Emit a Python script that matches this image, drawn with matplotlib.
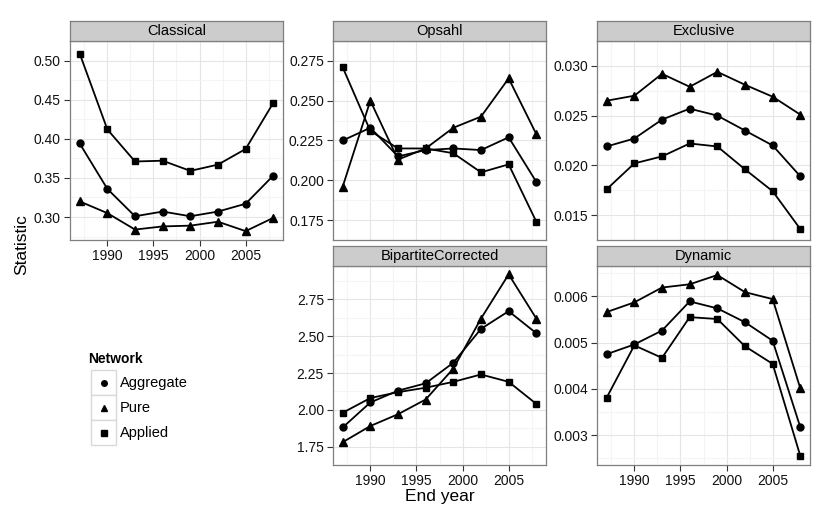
import matplotlib
matplotlib.use("Agg")
import matplotlib.pyplot as plt
from matplotlib.patches import Rectangle
import numpy as np

plt.rcParams['font.family'] = ['Liberation Sans', 'DejaVu Sans']

years = [1987, 1990, 1993, 1996, 1999, 2002, 2005, 2008]
networks = ['Aggregate', 'Pure', 'Applied']
markers = {'Aggregate': 'o', 'Pure': '^', 'Applied': 's'}
msizes = {'Aggregate': 5.0, 'Pure': 5.8, 'Applied': 5.0}

classical_aggregate = [0.394, 0.336, 0.301, 0.307, 0.301, 0.307, 0.317, 0.353]
classical_pure = [0.320, 0.305, 0.284, 0.288, 0.289, 0.294, 0.282, 0.299]
classical_applied = [0.509, 0.412, 0.371, 0.372, 0.359, 0.367, 0.387, 0.446]

opsahl_aggregate = [0.225, 0.233, 0.215, 0.219, 0.220, 0.219, 0.227, 0.199]
opsahl_pure = [0.196, 0.250, 0.213, 0.220, 0.233, 0.240, 0.264, 0.229]
opsahl_applied = [0.271, 0.231, 0.220, 0.220, 0.217, 0.205, 0.210, 0.174]

exclusive_aggregate = [0.0219, 0.0227, 0.0246, 0.0257, 0.0250, 0.0235, 0.0220, 0.0189]
exclusive_pure = [0.0265, 0.0270, 0.0292, 0.0279, 0.0294, 0.0281, 0.0269, 0.0251]
exclusive_applied = [0.0176, 0.0202, 0.0209, 0.0222, 0.0219, 0.0196, 0.0174, 0.0136]

bipartite_aggregate = [1.88, 2.05, 2.13, 2.18, 2.32, 2.55, 2.67, 2.52]
bipartite_pure = [1.78, 1.89, 1.97, 2.07, 2.28, 2.62, 2.92, 2.62]
bipartite_applied = [1.98, 2.08, 2.12, 2.15, 2.19, 2.24, 2.19, 2.04]

dynamic_aggregate = [0.00475, 0.00496, 0.00526, 0.00589, 0.00574, 0.00544, 0.00504, 0.00317]
dynamic_pure = [0.00566, 0.00587, 0.00619, 0.00626, 0.00646, 0.00609, 0.00594, 0.00401]
dynamic_applied = [0.00381, 0.00494, 0.00467, 0.00555, 0.00551, 0.00492, 0.00454, 0.00255]

x_ticks = [1990, 1995, 2000, 2005]
classical_ticks = [0.30, 0.35, 0.40, 0.45, 0.50]
opsahl_ticks = [0.175, 0.200, 0.225, 0.250, 0.275]
exclusive_ticks = [0.015, 0.020, 0.025, 0.030]
bipartite_ticks = [1.75, 2.00, 2.25, 2.50, 2.75]
dynamic_ticks = [0.003, 0.004, 0.005, 0.006]

panels = [
    # title, data, yticks, fmt, (left, top) in px, show x labels
    ('Classical', [classical_aggregate, classical_pure, classical_applied], classical_ticks, '%.2f', (70, 41), True),
    ('Opsahl', [opsahl_aggregate, opsahl_pure, opsahl_applied], opsahl_ticks, '%.3f', (333, 41), False),
    ('Exclusive', [exclusive_aggregate, exclusive_pure, exclusive_applied], exclusive_ticks, '%.3f', (597, 41), False),
    ('BipartiteCorrected', [bipartite_aggregate, bipartite_pure, bipartite_applied], bipartite_ticks, '%.2f', (333, 266), True),
    ('Dynamic', [dynamic_aggregate, dynamic_pure, dynamic_applied], dynamic_ticks, '%.3f', (597, 266), True),
]

W, H = 830, 519
pw, ph, sh = 213, 199, 20
border = '#7f7f7f'

fig = plt.figure(figsize=(W / 100, H / 100), dpi=100)


def px_rect(left, top, w, h):
    return [left / W, 1 - (top + h) / H, w / W, h / H]


for title, series, yt, fmt, (left, top), show_x in panels:
    ax = fig.add_axes(px_rect(left, top, pw, ph))
    for name, vals in zip(networks, series):
        ax.plot(years, vals, color='black', lw=1.3, marker=markers[name],
                ms=msizes[name], zorder=3)
    ax.margins(x=0.05, y=0.05)
    ax.set_xticks(x_ticks)
    ax.set_xticks([x + 2.5 for x in [1985] + x_ticks], minor=True)
    ax.set_yticks(yt)
    ax.set_yticklabels([fmt % v for v in yt])
    step = yt[1] - yt[0]
    ax.set_yticks([yt[0] - step / 2] + [v + step / 2 for v in yt], minor=True)
    ax.set_xlim(1987 - 21 * 0.05, 2008 + 21 * 0.05)
    lo, hi = ax.get_ylim()
    ax.set_ylim(lo, hi)
    ax.grid(True, which='major', color='#e5e5e5', lw=0.8, zorder=0)
    ax.grid(True, which='minor', color='#f4f4f4', lw=0.8, zorder=0)
    ax.set_axisbelow(True)
    for sp in ax.spines.values():
        sp.set_color(border)
        sp.set_linewidth(0.9)
    ax.tick_params(which='minor', length=0)
    ax.tick_params(which='major', length=4.5, width=0.8, color='#333333',
                   labelsize=10, pad=2, labelcolor='#111111')
    if show_x:
        ax.set_xticklabels([str(x) for x in x_ticks])
    else:
        ax.tick_params(axis='x', which='major', length=0, labelbottom=False)

    st = fig.add_axes(px_rect(left, top - sh, pw, sh))
    st.set_facecolor('#cccccc')
    st.set_xticks([])
    st.set_yticks([])
    for sp in st.spines.values():
        sp.set_color(border)
        sp.set_linewidth(0.9)
    st.text(0.5, 0.48, title, ha='center', va='center', fontsize=10.5,
            transform=st.transAxes)

fig.text(22 / W, 1 - 245 / H, 'Statistic', rotation=90, ha='center',
         va='center', fontsize=12.5)
fig.text(440 / W, 1 - 496 / H, 'End year', ha='center', va='center',
         fontsize=12.5)

# legend
lg = fig.add_axes([0, 0, 1, 1], facecolor='none')
lg.set_xlim(0, W)
lg.set_ylim(H, 0)
lg.axis('off')
lg.text(88, 359, 'Network', fontsize=10, fontweight='bold', va='center', ha='left')
key_top, key_h = 370, 25
for i, name in enumerate(networks):
    y0 = key_top + i * key_h
    lg.add_patch(Rectangle((91, y0), 25, key_h, facecolor='white',
                           edgecolor='#d9d9d9', lw=1.0))
    lg.plot([103.5], [y0 + key_h / 2], marker=markers[name], color='black',
            ms=msizes[name] * 0.8, ls='none')
    lg.text(120, y0 + key_h / 2, name, fontsize=10.5, va='center', ha='left')

fig.savefig('out.png', dpi=100)
